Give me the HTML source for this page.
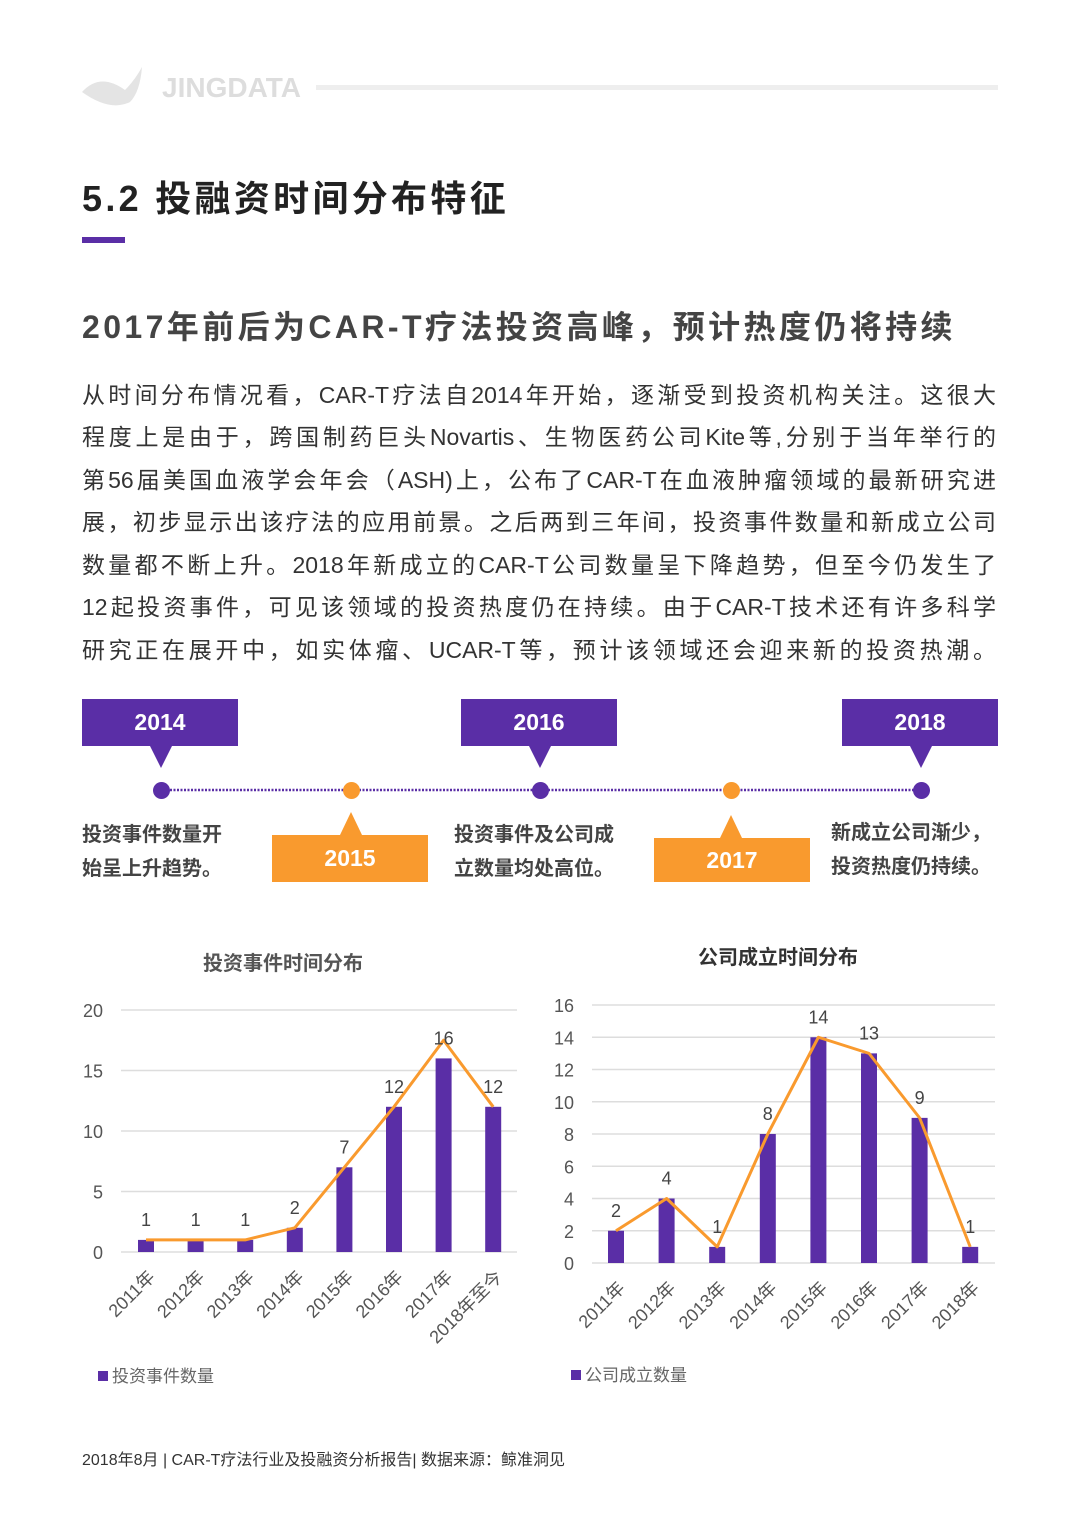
<!DOCTYPE html>
<html><head><meta charset="utf-8"><style>
body{margin:0;width:1080px;height:1532px;background:#fff;position:relative;overflow:hidden;font-family:"Liberation Sans","Noto Sans CJK SC",sans-serif;}
.a{position:absolute;}
.para div{position:absolute;left:82px;width:914px;font-size:23px;color:#333;text-align:justify;text-align-last:justify;white-space:nowrap;line-height:30px;}
.box{position:absolute;width:156px;height:47px;color:#fff;font-weight:bold;font-size:23px;text-align:center;line-height:47px;}
.p{background:#5a2ea6}.o{background:#f99a2e}
.desc{position:absolute;font-size:20px;font-weight:bold;color:#444;line-height:34px;}
.dot{position:absolute;width:17px;height:17px;border-radius:50%;top:782px;}
</style></head><body>
<svg class="a" style="left:80px;top:62px" width="70" height="50"><path d="M2 30 Q20 10 45 28 Q55 18 62 5 Q60 30 50 40 Q30 50 2 30Z" fill="#e4e4e4"/></svg>
<div class="a" style="left:162px;top:72px;font-size:28px;font-weight:bold;color:#ddd">JINGDATA</div>
<div class="a" style="left:316px;top:85px;width:682px;height:5px;background:#eee"></div>
<div class="a" style="left:82px;top:170px;font-size:36px;font-weight:bold;color:#222;letter-spacing:3.3px">5.2 投融资时间分布特征</div>
<div class="a" style="left:82px;top:237px;width:43px;height:6px;background:#5a2ea6"></div>
<div class="a" style="left:82px;top:302px;font-size:32px;font-weight:bold;color:#444;letter-spacing:3.4px">2017年前后为CAR-T疗法投资高峰，预计热度仍将持续</div>
<div class="para">
<div style="top:380px">从时间分布情况看，CAR-T疗法自2014年开始，逐渐受到投资机构关注。这很大</div>
<div style="top:422px">程度上是由于，跨国制药巨头Novartis、生物医药公司Kite等,分别于当年举行的</div>
<div style="top:465px">第56届美国血液学会年会（ASH)上，公布了CAR-T在血液肿瘤领域的最新研究进</div>
<div style="top:507px">展，初步显示出该疗法的应用前景。之后两到三年间，投资事件数量和新成立公司</div>
<div style="top:550px">数量都不断上升。2018年新成立的CAR-T公司数量呈下降趋势，但至今仍发生了</div>
<div style="top:592px">12起投资事件，可见该领域的投资热度仍在持续。由于CAR-T技术还有许多科学</div>
<div style="top:635px">研究正在展开中，如实体瘤、UCAR-T等，预计该领域还会迎来新的投资热潮。</div>
</div>
<svg class="a" style="left:0;top:690px" width="1080" height="200">
<line x1="170" y1="100" x2="914" y2="100" stroke="#5a2ea6" stroke-width="2.5" stroke-dasharray="2 1.5"/>
<polygon points="150,56 172,56 161,78" fill="#5a2ea6"/><polygon points="529,56 551,56 540,78" fill="#5a2ea6"/><polygon points="910,56 932,56 921,78" fill="#5a2ea6"/>
<polygon points="340,145 362,145 351,122" fill="#f99a2e"/><polygon points="720,148 742,148 731,125" fill="#f99a2e"/>
</svg>
<div class="box p" style="left:82px;top:699px">2014</div>
<div class="box p" style="left:461px;top:699px">2016</div>
<div class="box p" style="left:842px;top:699px">2018</div>
<div class="box o" style="left:272px;top:835px">2015</div>
<div class="box o" style="left:654px;top:838px;height:44px;line-height:44px">2017</div>
<div class="dot p" style="left:153px"></div>
<div class="dot o" style="left:343px"></div>
<div class="dot p" style="left:532px"></div>
<div class="dot o" style="left:723px"></div>
<div class="dot p" style="left:913px"></div>
<div class="desc" style="left:82px;top:818px">投资事件数量开<br>始呈上升趋势。</div>
<div class="desc" style="left:454px;top:818px">投资事件及公司成<br>立数量均处高位。</div>
<div class="desc" style="left:831px;top:816px">新成立公司渐少，<br>投资热度仍持续。</div>

<svg id="c1" class="a" style="left:0;top:930px" width="540" height="480"></svg>
<svg id="c2" class="a" style="left:540px;top:930px" width="540" height="480"></svg>
<div class="a" style="left:82px;top:1446px;font-size:16px;color:#333">2018年8月 | CAR-T疗法行业及投融资分析报告| 数据来源：鲸准洞见</div>
<script>
const cats1=["2011年","2012年","2013年","2014年","2015年","2016年","2017年","2018年至今"];
const bars1=[1,1,1,2,7,12,16,12];
const line1=[1,1,1,2,7,12,17.5,12];
const ticks1=[0,5,10,15,20];
const cats2=["2011年","2012年","2013年","2014年","2015年","2016年","2017年","2018年"];
const bars2=[2,4,1,8,14,13,9,1];
const line2=[2,4,1,8,14,13,9,1];
const ticks2=[0,2,4,6,8,10,12,14,16];
const NS="http://www.w3.org/2000/svg";
function mk(p,t,a){const e=document.createElementNS(NS,t);for(const k in a)e.setAttribute(k,a[k]);p.appendChild(e);return e;}
function draw(id,o){
 const s=document.getElementById(id);
 const ymax=o.ticks[o.ticks.length-1];
 const y=v=>o.y0-(o.y0-o.y1)*v/ymax;
 const x=i=>o.xa+i*o.step;
 const t=mk(s,"text",{x:o.tx,y:o.ty,"text-anchor":"middle","font-size":20,"font-weight":"bold",fill:o.tc});t.textContent=o.title;
 
 
 o.ticks.forEach(v=>{const l=mk(s,"line",{x1:o.gx0,x2:o.gx1,y1:y(v),y2:y(v),stroke:"#ddd","stroke-width":1.5});
  
  
  const tx=mk(s,"text",{x:o.gx0-18,y:y(v)+7,"text-anchor":"end","font-size":18,fill:"#555"});tx.textContent=v;
  
  });
 o.bars.forEach((v,i)=>{const r=mk(s,"rect",{x:x(i)-8,y:y(v),width:16,height:y(0)-y(v),fill:"#5a2ea6"});
  
  
  const c=mk(s,"text",{transform:`translate(${x(i)+10},${o.y0+26}) rotate(-45)`,"text-anchor":"end","font-size":18,fill:"#555"});c.textContent=o.cats[i];
  
  });
 const pl=mk(s,"polyline",{points:o.line.map((v,i)=>x(i)+","+y(v)).join(" "),fill:"none",stroke:"#f99a2e","stroke-width":3,"stroke-linejoin":"round"});
 
 
 o.bars.forEach((v,i)=>{const lb=mk(s,"text",{x:x(i),y:y(v)-14,"text-anchor":"middle","font-size":18,fill:"#444"});lb.textContent=v;
  
  });
 const lr=mk(s,"rect",{x:o.lx,y:o.ly-11,width:10,height:10,fill:"#5a2ea6"});
 
 
 const lt=mk(s,"text",{x:o.lx+14,y:o.ly,"font-size":17,fill:"#666"});lt.textContent=o.legend;
 
 
}
draw("c1",{title:"投资事件时间分布",tx:283,ty:40,tc:"#555",ticks:ticks1,bars:bars1,line:line1,cats:cats1,y0:322,y1:80,gx0:121,gx1:517,xa:146,step:49.6,lx:98,ly:452,legend:"投资事件数量"});
draw("c2",{title:"公司成立时间分布",tx:238,ty:34,tc:"#333",ticks:ticks2,bars:bars2,line:line2,cats:cats2,y0:333,y1:75,gx0:52,gx1:455,xa:76,step:50.6,lx:31,ly:451,legend:"公司成立数量"});
</script>
</body></html>
